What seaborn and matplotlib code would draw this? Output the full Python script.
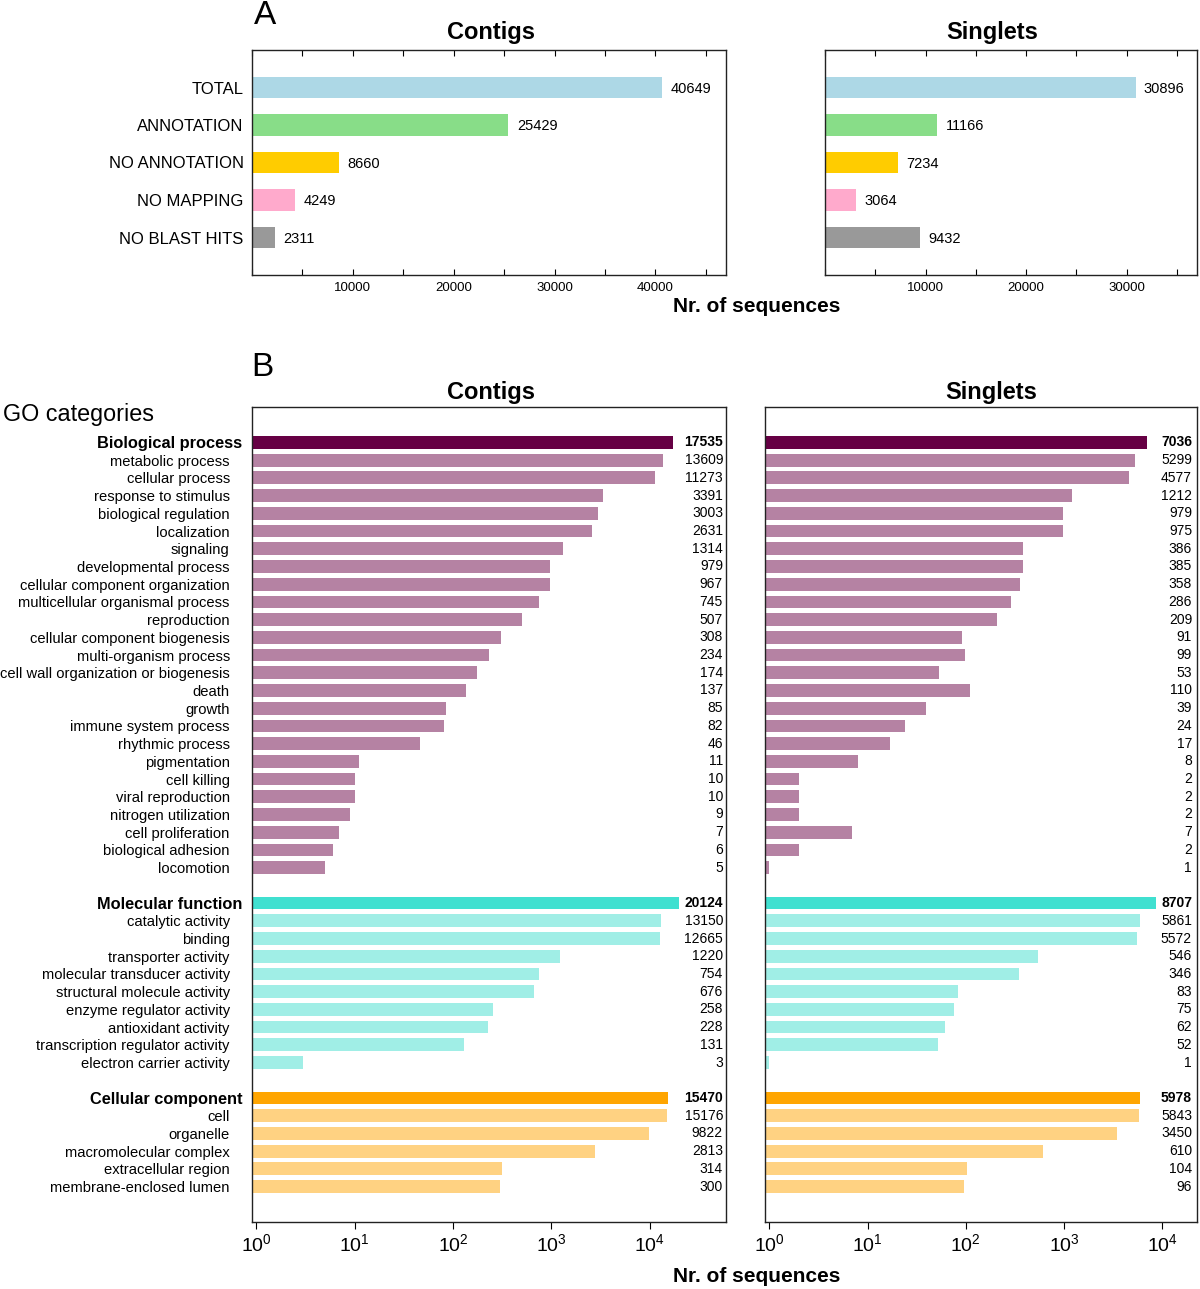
import matplotlib
matplotlib.use('Agg')
import matplotlib.pyplot as plt
import matplotlib.transforms as mtrans
from matplotlib.ticker import MultipleLocator, LogLocator, NullLocator
import numpy as np
import pandas as pd
import seaborn as sns

sns.set_style('white')
plt.rcParams['font.family'] = ['Liberation Sans', 'DejaVu Sans']
plt.rcParams['text.color'] = 'black'
plt.rcParams['xtick.color'] = 'black'
plt.rcParams['ytick.color'] = 'black'
plt.rcParams['axes.labelcolor'] = 'black'

# ---- panel A data
a_cats = ['TOTAL', 'ANNOTATION', 'NO ANNOTATION', 'NO MAPPING', 'NO BLAST HITS']
a_contigs = [40649, 25429, 8660, 4249, 2311]
a_singlets = [30896, 11166, 7234, 3064, 9432]
a_colors = ['#add8e6', '#88dd88', '#ffcc00', '#ffaacc', '#999999']

# ---- panel B data (GO categories)
bp_terms = ['Biological process', 'metabolic process', 'cellular process', 'response to stimulus',
            'biological regulation', 'localization', 'signaling', 'developmental process',
            'cellular component organization', 'multicellular organismal process', 'reproduction',
            'cellular component biogenesis', 'multi-organism process',
            'cell wall organization or biogenesis', 'death', 'growth', 'immune system process',
            'rhythmic process', 'pigmentation', 'cell killing', 'viral reproduction',
            'nitrogen utilization', 'cell proliferation', 'biological adhesion', 'locomotion']
bp_contigs = [17535, 13609, 11273, 3391, 3003, 2631, 1314, 979, 967, 745, 507, 308, 234, 174,
              137, 85, 82, 46, 11, 10, 10, 9, 7, 6, 5]
bp_singlets = [7036, 5299, 4577, 1212, 979, 975, 386, 385, 358, 286, 209, 91, 99, 53,
               110, 39, 24, 17, 8, 2, 2, 2, 7, 2, 1]

mf_terms = ['Molecular function', 'catalytic activity', 'binding', 'transporter activity',
            'molecular transducer activity', 'structural molecule activity',
            'enzyme regulator activity', 'antioxidant activity',
            'transcription regulator activity', 'electron carrier activity']
mf_contigs = [20124, 13150, 12665, 1220, 754, 676, 258, 228, 131, 3]
mf_singlets = [8707, 5861, 5572, 546, 346, 83, 75, 62, 52, 1]

cc_terms = ['Cellular component', 'cell', 'organelle', 'macromolecular complex',
            'extracellular region', 'membrane-enclosed lumen']
cc_contigs = [15470, 15176, 9822, 2813, 314, 300]
cc_singlets = [5978, 5843, 3450, 610, 104, 96]

headers = ['Biological process', 'Molecular function', 'Cellular component']
group_colors = [('#660044', '#b582a3'), ('#40e0d0', '#a0eee6'), ('#ffa500', '#ffd282')]

terms = bp_terms + mf_terms + cc_terms
order = bp_terms + [' '] + mf_terms + ['  '] + cc_terms
pal = {}
for t_list, (hc, sc) in zip([bp_terms, mf_terms, cc_terms], group_colors):
    for t in t_list:
        pal[t] = hc if t in headers else sc

fig = plt.figure(figsize=(12, 12.89), dpi=100)
W, H = 1200, 1289


def add_ax(l, t, r, b):
    return fig.add_axes([l / W, 1 - b / H, (r - l) / W, (b - t) / H])


def panel_a(ax, values, xmax, title, title_x, show_labels):
    df = pd.DataFrame({'cat': a_cats, 'n': values})
    sns.barplot(data=df, x='n', y='cat', hue='cat', palette=dict(zip(a_cats, a_colors)),
                order=a_cats, legend=False, width=0.57, saturation=1, linewidth=0, ax=ax)
    for i, v in enumerate(values):
        ax.annotate(str(v), xy=(v, i), xytext=(6, -1), textcoords='offset points',
                    va='center', ha='left', fontsize=10.5)
    ax.set_xlim(0, xmax)
    ax.set_ylim(5, -1)
    ax.xaxis.set_major_locator(MultipleLocator(10000))
    ax.xaxis.set_minor_locator(MultipleLocator(5000))
    ax.set_xticks([10000, 20000, 30000, 40000][: int(xmax // 10000)])
    ax.tick_params(axis='x', which='both', direction='in', top=True, bottom=True,
                   labelsize=9.5, length=4, width=0.8, pad=5)
    ax.tick_params(axis='y', length=0, labelsize=12, pad=6)
    if not show_labels:
        ax.set_yticklabels([])
    ax.set_xlabel('')
    ax.set_ylabel('')
    ax.set_title(title, fontsize=17, fontweight='bold', pad=8, x=title_x)
    for s in ax.spines.values():
        s.set_visible(True)
        s.set_color('#222222')
        s.set_linewidth(1.0)


def panel_b(ax, values, xmax, title, title_x, show_labels, txt_off):
    df = pd.DataFrame({'term': terms, 'n': values})
    sns.barplot(data=df, x='n', y='term', hue='term', palette=pal, order=order,
                legend=False, width=0.72, saturation=1, linewidth=0, ax=ax)
    ax.set_xscale('log')
    ax.set_xlim(0.905, xmax)
    ax.set_ylim(44, -2)
    ax.xaxis.set_major_locator(LogLocator(base=10, numticks=10))
    ax.xaxis.set_minor_locator(NullLocator())
    ax.set_xticks([1, 10, 100, 1000, 10000])
    ax.tick_params(axis='x', which='major', direction='out', bottom=True, top=False,
                   labelsize=14, length=5, width=0.8, pad=3)
    trans = mtrans.blended_transform_factory(ax.transAxes, ax.transData)
    for t, v in zip(terms, values):
        y = order.index(t)
        bold = t in headers
        ax.annotate(str(v), xy=(1, y), xycoords=trans, xytext=(txt_off, 0),
                    textcoords='offset pixels', ha='right', va='center',
                    fontsize=10, fontweight='bold' if bold else 'normal')
    ax.tick_params(axis='y', length=0)
    if show_labels:
        labels = ax.get_yticklabels()
        ticks = ax.yaxis.get_major_ticks()
        for lab, tk in zip(labels, ticks):
            if lab.get_text() in headers:
                lab.set_fontweight('bold')
                lab.set_fontsize(11.8)
                tk.set_pad(7)
            else:
                lab.set_fontsize(10.6)
                tk.set_pad(16)
    else:
        ax.set_yticklabels([])
    ax.set_xlabel('')
    ax.set_ylabel('')
    ax.set_title(title, fontsize=17, fontweight='bold', pad=6, x=title_x)
    for s in ax.spines.values():
        s.set_visible(True)
        s.set_color('#222222')
        s.set_linewidth(1.0)


ax1 = add_ax(252, 50, 726, 275)
panel_a(ax1, a_contigs, 47000, 'Contigs', 0.504, True)
ax2 = add_ax(825, 50, 1197, 275)
panel_a(ax2, a_singlets, 37000, 'Singlets', 0.449, False)

ax3 = add_ax(252, 407, 726, 1222)
panel_b(ax3, bp_contigs + mf_contigs + cc_contigs, 60000, 'Contigs', 0.504, True, -3)
ax4 = add_ax(765, 407, 1197, 1222)
panel_b(ax4, bp_singlets + mf_singlets + cc_singlets, 22500, 'Singlets', 0.523, False, -5)

fig.text(265 / W, 1 - 16 / H, 'A', fontsize=24, ha='center', va='center')
fig.text(262 / W, 1 - 368 / H, 'B', fontsize=24, ha='center', va='center')
fig.text(3 / W, 1 - 414 / H, 'GO categories', fontsize=16.8, ha='left', va='center')
fig.text(757 / W, 1 - 306 / H, 'Nr. of sequences', fontsize=15, fontweight='bold',
         ha='center', va='center')
fig.text(757 / W, 1 - 1277 / H, 'Nr. of sequences', fontsize=15, fontweight='bold',
         ha='center', va='center')

fig.savefig('out.png', dpi=100)
